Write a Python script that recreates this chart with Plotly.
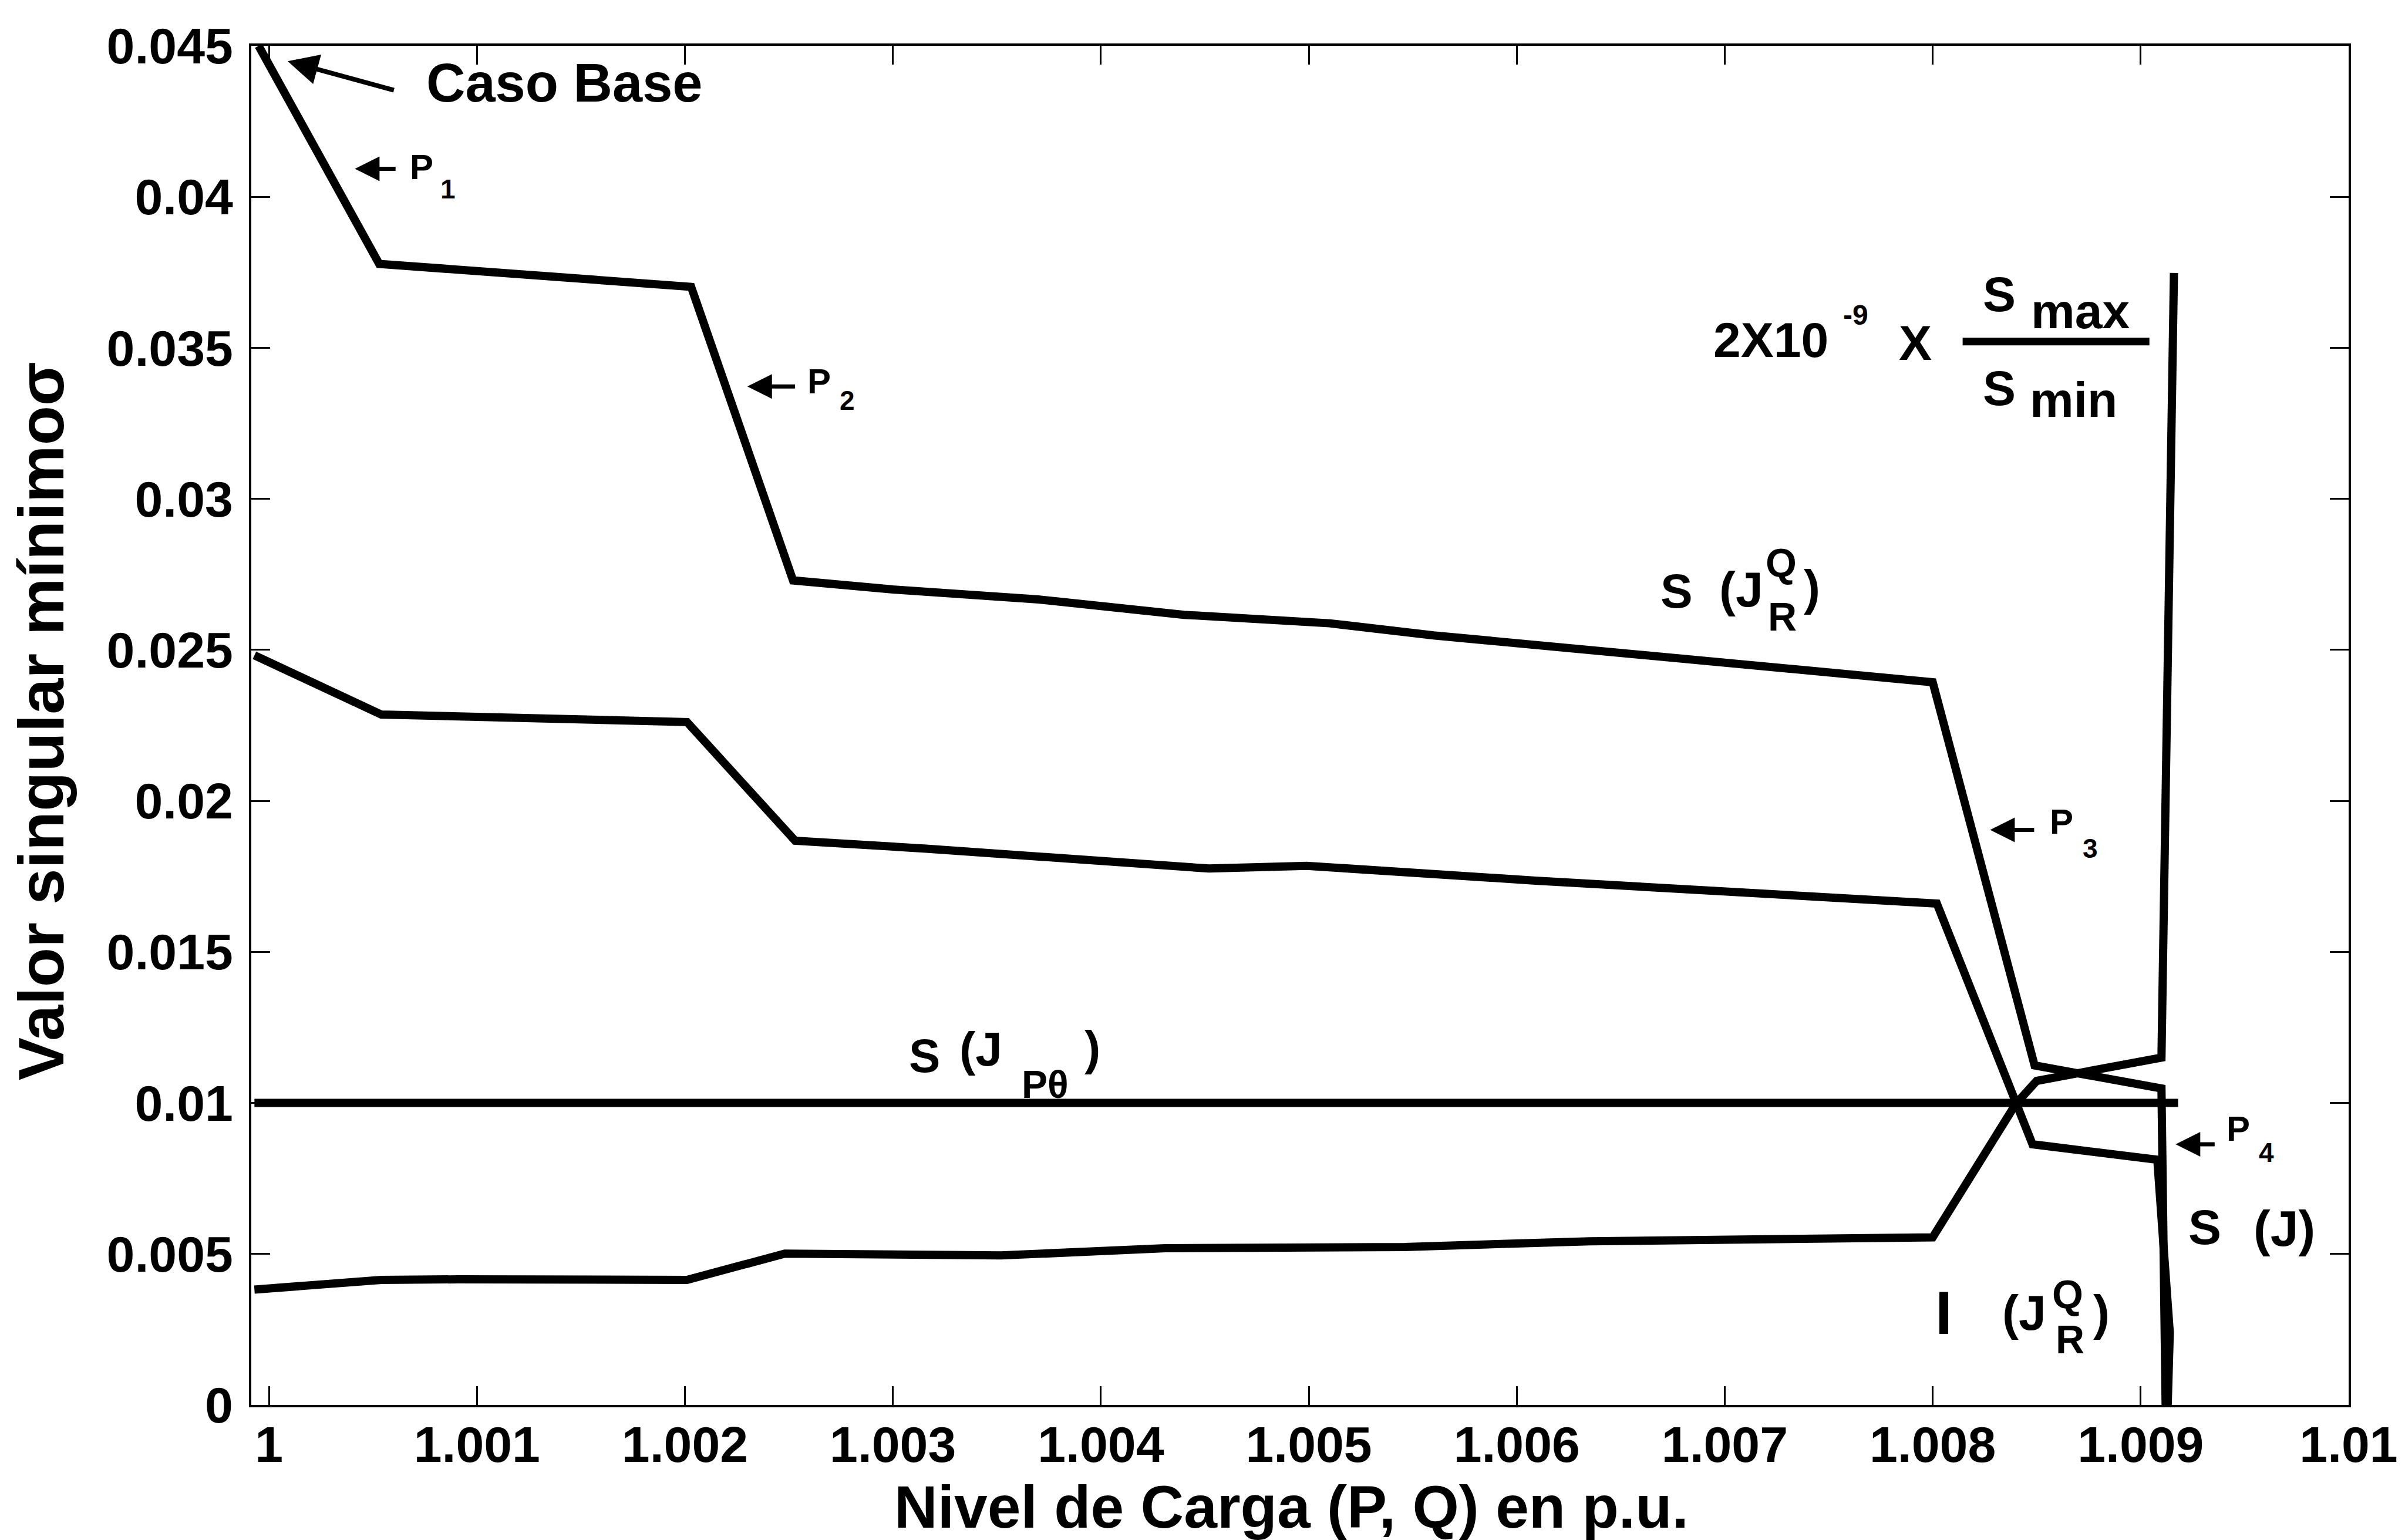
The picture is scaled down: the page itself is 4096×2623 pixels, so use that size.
import plotly.graph_objects as go

# ---- data -------------------------------------------------------------
# Load level (p.u.) and minimum singular values of the reduced Jacobians
load_sjrq = [0.99995, 1.00053, 1.00203, 1.00252, 1.0030, 1.0037, 1.0044, 1.0051,
             1.0056, 1.0065, 1.0072, 1.0080, 1.00849, 1.00910, 1.00912]
sigma_sjrq = [0.0450, 0.03778, 0.03702, 0.02730, 0.02700, 0.02667, 0.02616, 0.02588,
              0.02548, 0.02491, 0.02450, 0.02393, 0.01124, 0.01048, 0.0]

load_sj = [0.99993, 1.00054, 1.00201, 1.00253, 1.00316, 1.00452, 1.00499, 1.00609,
           1.00802, 1.00840, 1.00848, 1.00908, 1.00914, 1.00913]
sigma_sj = [0.02482, 0.02286, 0.02261, 0.01868, 0.01842, 0.01776, 0.01785, 0.01736,
            0.01660, 0.00997, 0.00863, 0.00812, 0.0024, 0.0]

load_cond = [0.99993, 1.00054, 1.00091, 1.00201, 1.00248, 1.00352, 1.00431, 1.00546,
             1.00635, 1.00703, 1.00800, 1.00840, 1.00850, 1.00910, 1.00916]
sigma_cond = [0.00382, 0.00414, 0.00416, 0.00414, 0.00501, 0.00495, 0.00519, 0.00523,
              0.00542, 0.00548, 0.00555, 0.00997, 0.01073, 0.01150, 0.03748]

load_sjpt = [0.99993, 1.00918]
sigma_sjpt = [0.0100, 0.0100]

x_ticks = [1.0, 1.001, 1.002, 1.003, 1.004, 1.005, 1.006, 1.007, 1.008, 1.009, 1.01]
x_labels = ["1", "1.001", "1.002", "1.003", "1.004", "1.005", "1.006", "1.007",
            "1.008", "1.009", "1.01"]
y_ticks = [0, 0.005, 0.01, 0.015, 0.02, 0.025, 0.03, 0.035, 0.04, 0.045]
y_labels = ["0", "0.005", "0.01", "0.015", "0.02", "0.025", "0.03", "0.035",
            "0.04", "0.045"]

# ---- figure -----------------------------------------------------------
FAMILY = "Liberation Sans, Arial, Helvetica, sans-serif"


def bold(size):
    return dict(family=FAMILY, size=size, color="black", weight="bold")


fig = go.Figure()
for xs, ys in [(load_sjrq, sigma_sjrq), (load_sj, sigma_sj),
               (load_cond, sigma_cond), (load_sjpt, sigma_sjpt)]:
    fig.add_trace(go.Scatter(x=xs, y=ys, mode="lines",
                             line=dict(color="black", width=14),
                             hoverinfo="skip", showlegend=False))


def text(x, y, s, size, xanchor="center"):
    fig.add_annotation(x=x, y=y, xref="x", yref="y", text=s, showarrow=False,
                       font=bold(size), xanchor=xanchor, yanchor="middle")


def arrow(x, y, ax, ay, width, size):
    fig.add_annotation(x=x, y=y, ax=ax, ay=ay, xref="x", yref="y",
                       axref="x", ayref="y", text="", showarrow=True,
                       arrowhead=2, arrowsize=size, arrowwidth=width,
                       arrowcolor="black")


# base case marker
arrow(1.00009, 0.04449, 1.000605, 0.04352, 8, 1.3)
text(1.00075, 0.04377, "Caso Base", 92, xanchor="left")

# P1..P4 pointers
arrow(1.000413, 0.04093, 1.000613, 0.04093, 7, 1.2)
text(1.000735, 0.04099, "P", 60)
text(1.000862, 0.04025, "1", 46)

arrow(1.00230, 0.03372, 1.002534, 0.03372, 7, 1.2)
text(1.002645, 0.03389, "P", 60)
text(1.002782, 0.03326, "2", 46)

arrow(1.008276, 0.01904, 1.008492, 0.01904, 7, 1.2)
text(1.008618, 0.01931, "P", 60)
text(1.008758, 0.01843, "3", 46)

arrow(1.009168, 0.00863, 1.00936, 0.00863, 7, 1.2)
text(1.009468, 0.00914, "P", 60)
text(1.009606, 0.00835, "4", 46)

# S(J_R^Q)
text(1.006770, 0.02696, "S", 82)
text(1.007080, 0.02700, "(J", 84)
text(1.007270, 0.02790, "Q", 68)
text(1.007276, 0.02611, "R", 68)
text(1.007420, 0.02705, ")", 84)

# S(J_Ptheta)
text(1.003153, 0.01156, "S", 80)
text(1.003424, 0.01179, "(J", 82)
text(1.003733, 0.01062, "Pθ", 66)
text(1.003960, 0.01182, ")", 82)

# S(J)
text(1.009308, 0.005894, "S", 84)
text(1.009690, 0.005856, "(J)", 86)

# I(J_R^Q)
text(1.008054, 0.00306, "I", 104)
text(1.008440, 0.00306, "(J", 84)
text(1.008650, 0.003665, "Q", 68)
text(1.008660, 0.00217, "R", 68)
text(1.008810, 0.00306, ")", 84)

# 2X10^-9 X Smax/Smin
text(1.007222, 0.03527, "2X10", 84)
text(1.007630, 0.03608, "-9", 48)
text(1.007915, 0.03517, "X", 84)
text(1.008320, 0.03678, "S", 84)
text(1.008710, 0.03621, "max", 84)
text(1.008320, 0.03366, "S", 84)
text(1.008677, 0.03328, "min", 84)
fig.add_shape(type="line", xref="x", yref="y", x0=1.008144, x1=1.009042,
              y0=0.03521, y1=0.03521, line=dict(color="black", width=13))

# axis titles
fig.add_annotation(xref="paper", yref="paper", x=-0.1003, y=0.503,
                   text="Valor singular mínimoσ", textangle=-90, showarrow=False,
                   font=bold(110), xanchor="center", yanchor="middle")
fig.add_annotation(xref="paper", yref="paper", x=0.496, y=-0.075,
                   text="Nivel de Carga (P, Q) en p.u.", showarrow=False,
                   font=bold(102), xanchor="center", yanchor="middle")

axis_common = dict(showline=True, linewidth=4, linecolor="black", mirror="ticks",
                   ticks="inside", ticklen=32, tickwidth=3, tickcolor="black",
                   showgrid=False, zeroline=False, tickfont=bold(86))

fig.update_xaxes(range=[0.999915, 1.01], tickvals=x_ticks, ticktext=x_labels,
                 ticklabelstandoff=-10, **axis_common)
fig.update_yaxes(range=[0, 0.045], tickvals=y_ticks, ticktext=y_labels,
                 ticklabelstandoff=10, **axis_common)

fig.update_layout(width=4096, height=2623, autosize=False,
                  margin=dict(l=428, r=90, t=78, b=230),
                  plot_bgcolor="white", paper_bgcolor="white",
                  showlegend=False)

fig.write_html("out.html")
